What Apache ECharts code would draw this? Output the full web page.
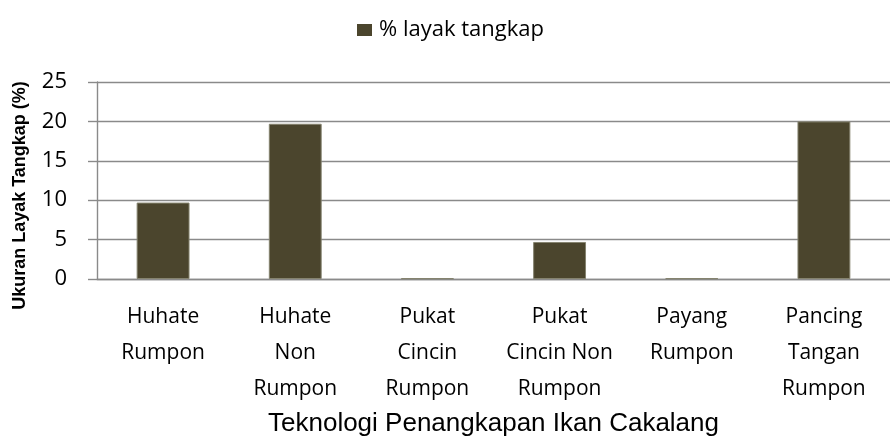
<!DOCTYPE html>
<html>
<head>
<meta charset="utf-8">
<script src="https://cdn.jsdelivr.net/npm/echarts@6/dist/echarts.min.js"></script>
<style>
  html, body { margin: 0; padding: 0; background: #fff; }
  #chart { width: 890px; height: 446px; }
</style>
</head>
<body>
<div id="chart"></div>
<script>
// categories (wrapped like the original axis labels)
const categories = [
  'Huhate\nRumpon',
  'Huhate\nNon\nRumpon',
  'Pukat\nCincin\nRumpon',
  'Pukat\nCincin Non\nRumpon',
  'Payang\nRumpon',
  'Pancing\nTangan\nRumpon'
]
const layakTangkap = [9.7, 19.7, 0.1, 4.7, 0.1, 20.0]
const seriesName = '% layak tangkap'
const xTitle = 'Teknologi Penangkapan Ikan Cakalang'
const yTitle = 'Ukuran Layak Tangkap (%)'

const barColor = '#4b452d'
const gridGrey = '#8a8a8a'

const chart = echarts.init(document.getElementById('chart'))
chart.setOption({
  animation: false,
  backgroundColor: '#fff',
  legend: {
    top: 19,
    left: 357,
    padding: 0,
    itemWidth: 15,
    itemHeight: 12,
    itemGap: 10,
    icon: 'rect',
    itemStyle: { borderWidth: 0 },
    textStyle: { fontFamily: 'Open Sans', fontSize: 22, color: '#000', padding: [0, 0, 0, 2] },
    data: [seriesName]
  },
  grid: { left: 97, top: 82, width: 802, height: 197, containLabel: false },
  xAxis: {
    type: 'category',
    data: categories,
    name: xTitle,
    nameLocation: 'middle',
    nameGap: 132,
    nameTextStyle: { fontFamily: 'Liberation Sans', fontSize: 26, color: '#000' },
    axisLine: { lineStyle: { color: gridGrey, width: 1.4 } },
    axisTick: { show: false },
    axisLabel: {
      interval: 0,
      margin: 20,
      fontFamily: 'Open Sans',
      fontSize: 21,
      lineHeight: 36,
      color: '#000',
      align: 'center'
    }
  },
  yAxis: {
    type: 'value',
    min: 0,
    max: 25,
    interval: 5,
    name: yTitle,
    nameLocation: 'middle',
    nameGap: 68,
    nameRotate: 90,
    nameTextStyle: {
      fontFamily: 'Liberation Sans',
      fontWeight: 'bold',
      fontSize: 18,
      color: '#000',
      padding: [0, 30, 0, 0]
    },
    axisLine: { show: true, lineStyle: { color: gridGrey, width: 1.4 } },
    axisTick: { show: true, length: 9, inside: false, lineStyle: { color: gridGrey, width: 1.4 } },
    axisLabel: { margin: 30, fontFamily: 'Open Sans', fontSize: 22, color: '#000' },
    splitLine: { lineStyle: { color: gridGrey, width: 1.4 } }
  },
  series: [{
    name: seriesName,
    type: 'bar',
    data: layakTangkap,
    barWidth: '40%',
    itemStyle: { color: barColor, borderColor: '#85836f', borderWidth: 1 }
  }]
})
</script>
</body>
</html>
